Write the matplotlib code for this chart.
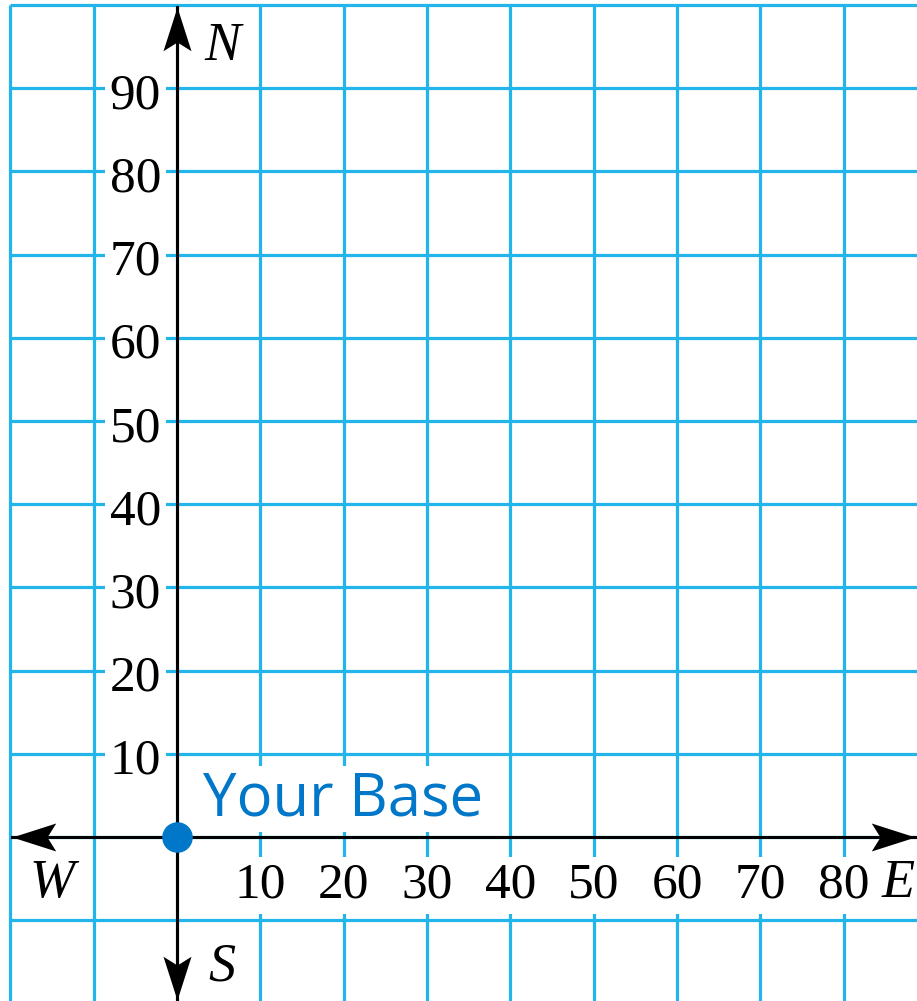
import numpy as np
import matplotlib.pyplot as plt
from matplotlib.path import Path

# grid and tick values
grid_x = [-20, -10, 0, 10, 20, 30, 40, 50, 60, 70, 80]
grid_y = [-10, 0, 10, 20, 30, 40, 50, 60, 70, 80, 90, 100]
x_ticks = [10, 20, 30, 40, 50, 60, 70, 80]
y_ticks = [10, 20, 30, 40, 50, 60, 70, 80, 90]

# the base point
base_x, base_y = 0, 0
base_label = "Your Base"

# compass labels: (text, x, y)
compass = [("N", 5.5, 93.4), ("S", 5.4, -17.2), ("E", 86.6, -7.2), ("W", -15.0, -7.2)]

GRID = "#22B5EA"
BLUE = "#0077C8"
XMIN, XMAX = -21.25, 88.8
YMIN, YMAX = -19.7, 100.6


def arrow_marker(angle):
    """Swept arrowhead with its tip at the origin, pointing at angle (deg)."""
    verts = np.array([[0, 0], [-0.32, -1.0], [0, -0.8], [0.32, -1.0], [0, 0]])
    t = np.deg2rad(angle - 90)
    rot = np.array([[np.cos(t), -np.sin(t)], [np.sin(t), np.cos(t)]])
    verts = verts @ rot.T
    codes = [Path.MOVETO, Path.LINETO, Path.LINETO, Path.LINETO, Path.CLOSEPOLY]
    return Path(verts, codes)


fig = plt.figure(figsize=(9.17, 10.01), dpi=100)
ax = fig.add_axes([0, 0, 1, 1])
ax.set_xlim(XMIN, XMAX)
ax.set_ylim(YMIN, YMAX)
ax.axis("off")

# grid
ax.vlines(grid_x, YMIN, 100, colors=GRID, lw=2.3, zorder=1)
ax.hlines(grid_y, -20, XMAX, colors=GRID, lw=2.3, zorder=1)

box = dict(facecolor="white", edgecolor="none", boxstyle="square,pad=0.1")
serif = "Liberation Serif"

for v in y_ticks:
    ax.text(-1.9, v - 2.4, str(v), ha="right", va="baseline",
            fontsize=37, family=serif, bbox=box, zorder=2)
for v in x_ticks:
    ax.text(v, -7.3, str(v), ha="center", va="baseline",
            fontsize=37, family=serif, bbox=box, zorder=2)

# axes with arrows
tip_n, tip_s, tip_w, tip_e = 99.8, -19.6, -19.8, 88.6
ax.plot([tip_w, tip_e], [0, 0], color="black", lw=2.2, zorder=3)
ax.plot([0, 0], [tip_s, tip_n], color="black", lw=2.2, zorder=3)
for (x, y, ang) in [(0, tip_n, 90), (0, tip_s, -90), (tip_w, 0, 180), (tip_e, 0, 0)]:
    ax.plot(x, y, marker=arrow_marker(ang), markersize=63, color="black",
            markeredgewidth=0, zorder=4, clip_on=False)

for txt, x, y in compass:
    ax.text(x, y, txt, ha="center", va="baseline", fontsize=39,
            family=serif, style="italic", zorder=3)

# base
ax.plot(base_x, base_y, "o", color=BLUE, markersize=21, zorder=5)
ax.text(base_x + 3.1, base_y + 2.65, base_label, ha="left", va="baseline",
        fontsize=43, family="Open Sans", color=BLUE,
        bbox=dict(facecolor="white", edgecolor="none", boxstyle="square,pad=0.05"),
        zorder=2)

fig.savefig("out.png", dpi=100)
